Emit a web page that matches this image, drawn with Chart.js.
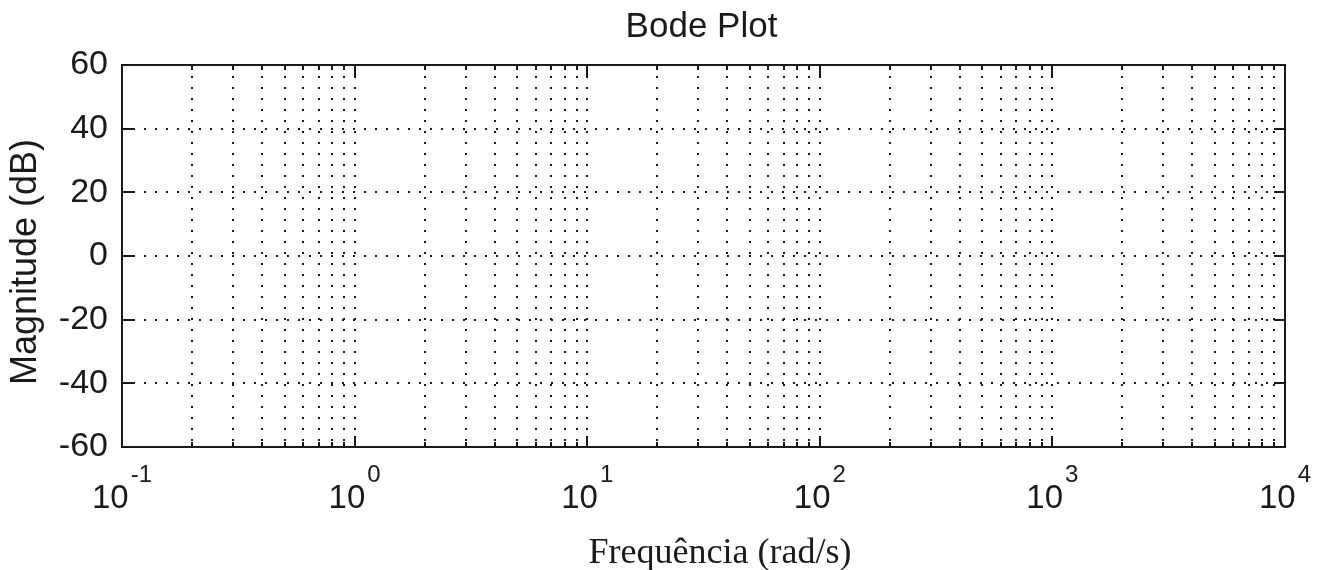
<!DOCTYPE html>
<html>
<head>
<meta charset="utf-8">
<script src="https://cdn.jsdelivr.net/npm/chart.js@4/dist/chart.umd.min.js"></script>
<style>
  html, body { margin: 0; padding: 0; background: #ffffff; }
  #wrap { width: 1325px; height: 570px; position: relative; }
</style>
</head>
<body>
<div id="wrap"><canvas id="c"></canvas></div>
<script>
// ---- data ----
const chartTitle = "Bode Plot";
const xAxisTitle = "Frequência (rad/s)";
const yAxisTitle = "Magnitude (dB)";
const xDecadeExponents = [-1, 0, 1, 2, 3, 4];
const xMinorMultipliers = [1, 2, 3, 4, 5, 6, 7, 8, 9];
const yTickValues = [-60, -40, -20, 0, 20, 40, 60];
const xMin = 0.1, xMax = 10000;
const yMin = -60, yMax = 60;

// x tick values built from decades and multipliers
const xTickValues = [];
xDecadeExponents.forEach((e, i) => {
  if (i === xDecadeExponents.length - 1) { xTickValues.push(Math.pow(10, e)); return; }
  xMinorMultipliers.forEach(m => xTickValues.push(+(m * Math.pow(10, e)).toPrecision(6)));
});
const isDecade = v => xDecadeExponents.some(e => Math.abs(v - Math.pow(10, e)) < 1e-9 * Math.pow(10, e));

const INK = '#1a1a1a';

const framePlugin = {
  id: 'framePlugin',
  afterDraw(chart) {
    const { ctx, chartArea: a, scales: { x, y } } = chart;
    ctx.save();
    ctx.strokeStyle = INK;
    ctx.lineWidth = 2;
    ctx.setLineDash([]);
    const seg = (x1, y1, x2, y2) => { ctx.beginPath(); ctx.moveTo(x1, y1); ctx.lineTo(x2, y2); ctx.stroke(); };
    // x ticks (inward, bottom and top)
    xTickValues.forEach(v => {
      const px = Math.round(x.getPixelForValue(v));
      const len = isDecade(v) ? 11 : 5;
      seg(px, a.bottom, px, a.bottom - len);
      seg(px, a.top, px, a.top + len);
    });
    // y ticks (inward, left and right)
    yTickValues.forEach(v => {
      const py = Math.round(y.getPixelForValue(v));
      seg(a.left, py, a.left + 11, py);
      seg(a.right, py, a.right - 11, py);
    });
    // frame
    ctx.strokeRect(a.left, a.top, a.right - a.left, a.bottom - a.top);

    ctx.fillStyle = INK;
    // y tick labels
    ctx.font = '34px "Liberation Sans", Arial, sans-serif';
    ctx.textAlign = 'right';
    ctx.textBaseline = 'middle';
    yTickValues.forEach(v => {
      const py = y.getPixelForValue(v);
      ctx.fillText(String(v), a.left - 14, py);
    });
    // x tick labels 10^e
    ctx.textBaseline = 'alphabetic';
    ctx.textAlign = 'left';
    const baseFont = '33px "Liberation Sans", Arial, sans-serif';
    const expFont = '24px "Liberation Sans", Arial, sans-serif';
    xDecadeExponents.forEach(e => {
      const px = x.getPixelForValue(Math.pow(10, e));
      ctx.font = baseFont;
      const wb = ctx.measureText('10').width;
      ctx.font = expFont;
      const es = String(e);
      const we = ctx.measureText(es).width;
      const total = wb + 2 + we;
      const x0 = px - total / 2;
      ctx.font = baseFont;
      ctx.fillText('10', x0, a.bottom + 61);
      ctx.font = expFont;
      ctx.fillText(es, x0 + wb + 2, a.bottom + 35);
    });
    // title
    ctx.textAlign = 'center';
    ctx.font = '35px "Liberation Sans", Arial, sans-serif';
    ctx.fillText(chartTitle, (a.left + a.right) / 2 - 2, 37);
    // x axis title (serif)
    ctx.font = '36px "Liberation Serif", "Times New Roman", serif';
    ctx.fillText(xAxisTitle, 720, 563);
    // y axis title rotated
    ctx.save();
    ctx.translate(36, 262);
    ctx.rotate(-Math.PI / 2);
    ctx.font = '36px "Liberation Sans", Arial, sans-serif';
    ctx.fillText(yAxisTitle, 0, 0);
    ctx.restore();
    ctx.restore();
  }
};

new Chart(document.getElementById('c'), {
  type: 'line',
  data: { datasets: [] },
  options: {
    responsive: true,
    maintainAspectRatio: false,
    animation: false,
    events: [],
    layout: { padding: { left: 122, top: 65, right: 40, bottom: 123 } },
    plugins: { legend: { display: false }, title: { display: false }, tooltip: { enabled: false } },
    scales: {
      x: {
        type: 'logarithmic',
        min: xMin, max: xMax,
        afterBuildTicks(scale) { scale.ticks = xTickValues.map(v => ({ value: v, major: isDecade(v) })); },
        ticks: { display: false },
        grid: { display: true, drawTicks: false, color: INK, lineWidth: 2 },
        border: { display: false, dash: [2, 9] },
        title: { display: false }
      },
      y: {
        type: 'linear',
        min: yMin, max: yMax,
        afterBuildTicks(scale) { scale.ticks = yTickValues.map(v => ({ value: v })); },
        ticks: { display: false },
        grid: { display: true, drawTicks: false, color: INK, lineWidth: 2 },
        border: { display: false, dash: [2, 9] },
        title: { display: false }
      }
    }
  },
  plugins: [framePlugin]
});
</script>
</body>
</html>
